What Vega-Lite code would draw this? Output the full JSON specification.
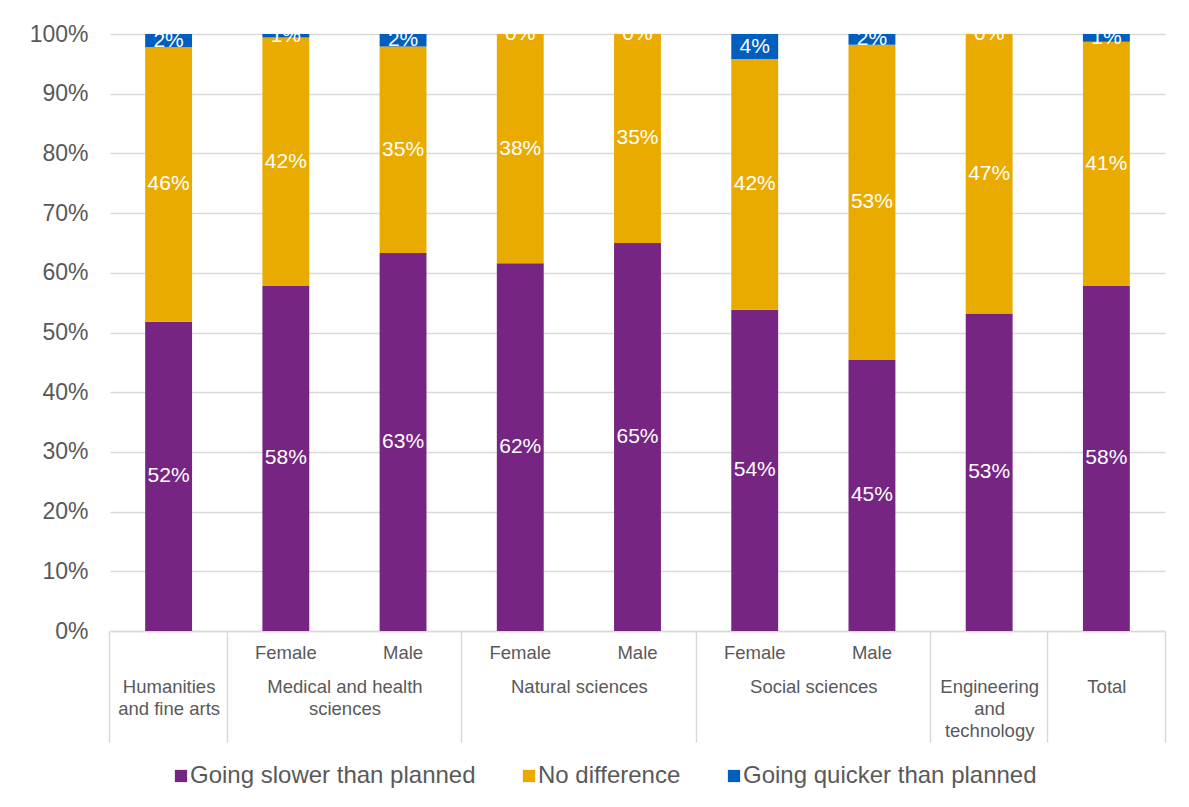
{
  "$schema": "https://vega.github.io/schema/vega-lite/v6.json",
  "width": 1055,
  "height": 597,
  "autosize": {"type": "none"},
  "padding": {"left": 110, "top": 34, "right": 24, "bottom": 176},
  "background": "white",
  "config": {"font": "Liberation Sans", "view": {"stroke": null}},
  "data": {"values": [
    {"category": "Humanities~and fine arts|", "series": "Going slower than planned", "share": 0.518},
    {"category": "Humanities~and fine arts|", "series": "No difference", "share": 0.460},
    {"category": "Humanities~and fine arts|", "series": "Going quicker than planned", "share": 0.022},
    {"category": "Medical and health~sciences|Female", "series": "Going slower than planned", "share": 0.578},
    {"category": "Medical and health~sciences|Female", "series": "No difference", "share": 0.416},
    {"category": "Medical and health~sciences|Female", "series": "Going quicker than planned", "share": 0.006},
    {"category": "Medical and health~sciences|Male", "series": "Going slower than planned", "share": 0.633},
    {"category": "Medical and health~sciences|Male", "series": "No difference", "share": 0.346},
    {"category": "Medical and health~sciences|Male", "series": "Going quicker than planned", "share": 0.021},
    {"category": "Natural sciences|Female", "series": "Going slower than planned", "share": 0.616},
    {"category": "Natural sciences|Female", "series": "No difference", "share": 0.384},
    {"category": "Natural sciences|Female", "series": "Going quicker than planned", "share": 0.0},
    {"category": "Natural sciences|Male", "series": "Going slower than planned", "share": 0.650},
    {"category": "Natural sciences|Male", "series": "No difference", "share": 0.350},
    {"category": "Natural sciences|Male", "series": "Going quicker than planned", "share": 0.0},
    {"category": "Social sciences|Female", "series": "Going slower than planned", "share": 0.538},
    {"category": "Social sciences|Female", "series": "No difference", "share": 0.420},
    {"category": "Social sciences|Female", "series": "Going quicker than planned", "share": 0.042},
    {"category": "Social sciences|Male", "series": "Going slower than planned", "share": 0.454},
    {"category": "Social sciences|Male", "series": "No difference", "share": 0.528},
    {"category": "Social sciences|Male", "series": "Going quicker than planned", "share": 0.018},
    {"category": "Engineering~and~technology|", "series": "Going slower than planned", "share": 0.532},
    {"category": "Engineering~and~technology|", "series": "No difference", "share": 0.468},
    {"category": "Engineering~and~technology|", "series": "Going quicker than planned", "share": 0.0},
    {"category": "Total|", "series": "Going slower than planned", "share": 0.578},
    {"category": "Total|", "series": "No difference", "share": 0.409},
    {"category": "Total|", "series": "Going quicker than planned", "share": 0.013}
  ]},
  "transform": [
    {"calculate": "indexof(['Going slower than planned','No difference','Going quicker than planned'], datum.series)", "as": "order"},
    {"stack": "share", "groupby": ["category"], "sort": [{"field": "order", "order": "ascending"}], "as": ["s0", "s1"]},
    {"calculate": "(datum.s0 + datum.s1) / 2", "as": "mid"}
  ],
  "layer": [
    {
      "mark": {"type": "bar"},
      "encoding": {
        "x": {
          "field": "category", "type": "nominal", "sort": null,
          "scale": {"paddingInner": 0.6, "paddingOuter": 0.3},
          "axis": {
            "orient": "bottom", "title": null,
            "labelExpr": "split(datum.value, '|')[1]",
            "bandPosition": -0.75,
            "labelOffset": 0,
            "ticks": true, "tickSize": 111, "tickColor": "#d9d9d9", "tickWidth": 1.5,
            "tickOpacity": {"condition": {"test": "split(datum.value, '|')[1] == 'Male'", "value": 0}, "value": 1},
            "labelAngle": 0, "labelFontSize": 18.5, "labelColor": "#595959",
            "labelPadding": -99,
            "domainColor": "#d9d9d9", "domainWidth": 1.5,
            "labelOverlap": false, "labelLimit": 400
          }
        },
        "y": {
          "field": "s0", "type": "quantitative",
          "scale": {"domain": [0, 1], "nice": false},
          "axis": {
            "title": null, "format": ".0%",
            "values": [0, 0.1, 0.2, 0.3, 0.4, 0.5, 0.6, 0.7, 0.8, 0.9, 1],
            "labelFontSize": 23, "labelColor": "#595959", "labelPadding": 22,
            "domain": false, "ticks": false,
            "gridColor": "#d9d9d9", "gridWidth": 1.5
          }
        },
        "y2": {"field": "s1"},
        "color": {
          "field": "series", "type": "nominal",
          "scale": {
            "domain": ["Going slower than planned", "No difference", "Going quicker than planned"],
            "range": ["#772583", "#EAAB00", "#005FBE"]
          },
          "legend": {
            "orient": "none", "legendX": 59, "legendY": 730,
            "direction": "horizontal", "title": null,
            "symbolType": "square", "symbolSize": 150, "symbolStrokeWidth": 0,
            "labelFontSize": 24, "labelColor": "#595959", "labelOffset": -3,
            "columnPadding": 41, "labelLimit": 400
          }
        }
      }
    },
    {
      "mark": {"type": "text", "clip": true, "color": "white", "fontSize": 21},
      "encoding": {
        "x": {
          "field": "category", "type": "nominal", "sort": null,
          "scale": {"paddingInner": 0.6, "paddingOuter": 0.3},
          "axis": {
            "orient": "bottom", "title": null,
            "labelExpr": "split(datum.value, '|')[1] == 'Male' ? '' : split(split(datum.value, '|')[0], '~')",
            "tickOffset": 58.6,
            "labelOffset": {"condition": {"test": "split(datum.value, '|')[1] == 'Female'", "value": 0}, "value": -58.6},
            "ticks": true, "tickSize": 111, "tickColor": "#d9d9d9", "tickWidth": 1.5,
            "tickOpacity": {"condition": {"test": "datum.value == 'Total|'", "value": 1}, "value": 0},
            "domain": false,
            "labelPadding": -65, "labelLineHeight": 22,
            "labelAngle": 0, "labelFontSize": 18.5, "labelColor": "#595959",
            "labelOverlap": false, "labelLimit": 400
          }
        },
        "y": {
          "field": "mid", "type": "quantitative",
          "scale": {"domain": [0, 1], "nice": false},
          "axis": {
            "title": null, "format": ".0%",
            "values": [0, 0.1, 0.2, 0.3, 0.4, 0.5, 0.6, 0.7, 0.8, 0.9, 1],
            "labelFontSize": 23, "labelColor": "#595959", "labelPadding": 22,
            "domain": false, "ticks": false,
            "gridColor": "#d9d9d9", "gridWidth": 1.5
          }
        },
        "text": {"field": "share", "type": "quantitative", "format": ".0%"}
      }
    }
  ],
  "resolve": {"scale": {"x": "independent"}, "axis": {"x": "independent"}}
}
